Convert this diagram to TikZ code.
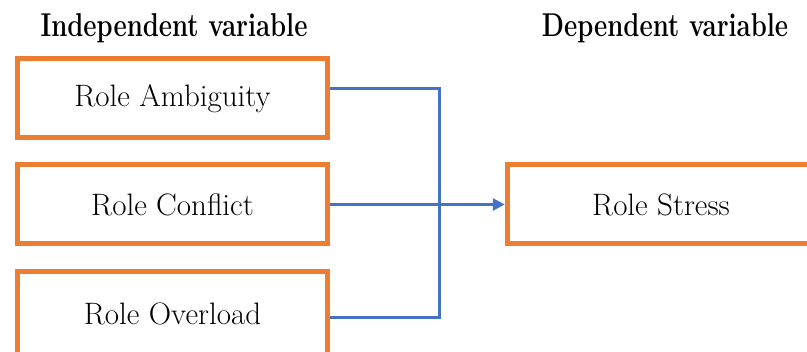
\documentclass[tikz,border=0pt]{standalone}
\usetikzlibrary{arrows.meta}
\definecolor{boxorange}{HTML}{ED7D31}
\definecolor{linkblue}{HTML}{4472C4}
\newcommand{\headtext}[1]{\scalebox{0.78}[1]{\bfseries #1}}
\begin{document}
\begin{tikzpicture}[x=1pt,y=-1pt,
  box/.style={draw=boxorange, line width=5pt, fill=white, minimum width=310pt, minimum height=79pt,
    inner sep=0pt, font=\rmfamily\fontsize{31}{36}\selectfont},
  head/.style={anchor=base, inner sep=0pt, font=\rmfamily\fontsize{33}{40}\selectfont},
  conn/.style={draw=linkblue, line width=3pt}]
\useasboundingbox (0,0) rectangle (807,352);
\clip (0,0) rectangle (807,352);
\fill[white] (0,0) rectangle (807,352);
\node[head] (ih) at (174,37) {\headtext{Independent variable}};
\node[head] (dh) at (665,37) {\headtext{Dependent variable}};
\node[box] (amb) at (172.5,98.5) {Role Ambiguity};
\node[box] (con) at (172.5,204.5) {Role Conflict};
\node[box, minimum height=84pt] (ovl) at (172.5,314) {Role Overload};
\node[box, minimum width=307.5pt] (str) at (661,204.5) {Role Stress};
\coordinate (j) at (439,0);
\draw[conn] ([yshift=9.5pt]amb.east) -| ([yshift=-4pt]ovl.east -| j) -- ([yshift=-4pt]ovl.east);
\draw[conn, -{Triangle[length=12pt,width=12pt]}] (con.east) -- (str.west);
\end{tikzpicture}
\end{document}
